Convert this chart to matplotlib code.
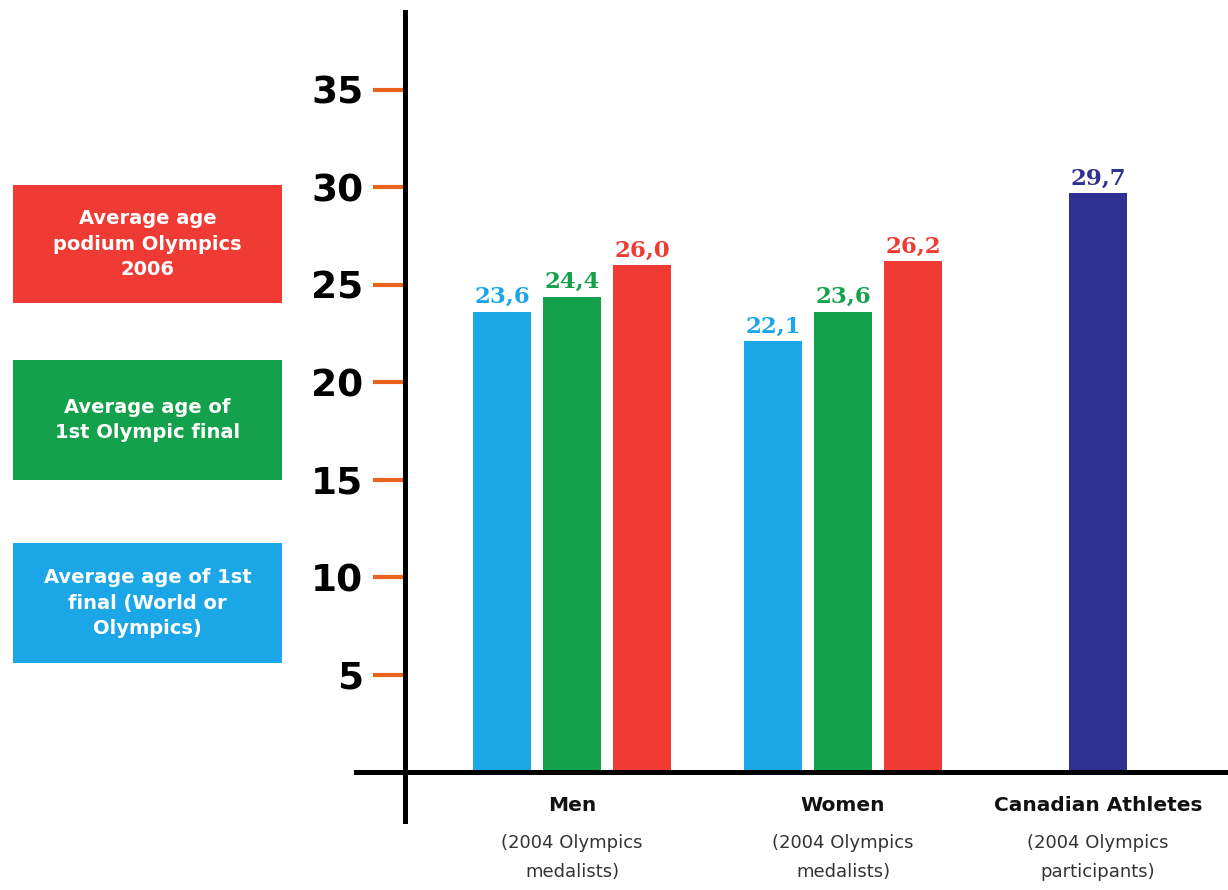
import matplotlib
matplotlib.use("Agg")
import matplotlib.pyplot as plt
from matplotlib.patches import Rectangle

# ---- data ----
groups = ["Men", "Women", "Canadian Athletes"]
group_sub = ["(2004 Olympics\nmedalists)", "(2004 Olympics\nmedalists)", "(2004 Olympics\nparticipants)"]
series = ["Average age of 1st\nfinal (World or\nOlympics)", "Average age of\n1st Olympic final", "Average age\npodium Olympics\n2006"]
first_final = [23.6, 22.1]
first_olympic_final = [24.4, 23.6]
podium_2006 = [26.0, 26.2]
canadian = [29.7]
yticks = [5, 10, 15, 20, 25, 30, 35]

BLUE = "#1ba6e8"
GREEN = "#13a14b"
RED = "#ef3b33"
NAVY = "#2e3192"
ORANGE = "#e8641e"

W, H = 1228, 890
fig = plt.figure(figsize=(W / 100, H / 100), dpi=100)
fig.patch.set_facecolor("white")

# axes: left at x=405, bottom at y=772, top at y=12, right at 1228
ax = fig.add_axes([405 / W, 1 - 772 / H, (1228 - 405) / W, (772 - 12) / H])
ax.set_facecolor("none")

group_pos = [0.0, 1.0, 1.94]
offset = 0.258
width = 0.214
ax.set_xlim(-0.616, 2.42)
ax.set_ylim(0, 39.0)

lab_kw = dict(ha="center", va="bottom", family="DejaVu Serif", fontweight="bold", fontsize=16.5)
for vals, off, col in [(first_final, -offset, BLUE), (first_olympic_final, 0, GREEN), (podium_2006, offset, RED)]:
    xs = [group_pos[i] + off for i in range(len(vals))]
    ax.bar(xs, vals, width=width, color=col, zorder=2)
    for x, v in zip(xs, vals):
        ax.text(x, v + 0.2, f"{v:.1f}".replace(".", ","), color=col, **lab_kw)
ax.bar([group_pos[2]], canadian, width=width, color=NAVY, zorder=2)
ax.text(group_pos[2], canadian[0] + 0.2, f"{canadian[0]:.1f}".replace(".", ","), color=NAVY, **lab_kw)

# axes styling
for s in ["top", "right", "left", "bottom"]:
    ax.spines[s].set_visible(False)
ax.set_yticks(yticks)
ax.set_yticklabels([str(t) for t in yticks], fontsize=27, fontweight="bold", family="DejaVu Sans")
ax.tick_params(axis="y", direction="out", length=23, width=3, color=ORANGE, pad=7)
ax.set_xticks([])

# axis lines extending beyond the plotting area
ax.plot([0, 0], [1.0, -0.065], transform=ax.transAxes, color="black", lw=3.6, clip_on=False, zorder=3)
ax.plot([-0.06, 1.0], [0, 0], transform=ax.transAxes, color="black", lw=3.6, clip_on=False, zorder=3)

# category labels
for x, g, sub in zip(group_pos, groups, group_sub):
    ax.text(x, -1.25, g, ha="center", va="top", fontsize=14.5, fontweight="bold", color="#111111")
    ax.text(x, -3.2, sub, ha="center", va="top", fontsize=13, color="#333333", linespacing=1.75)

# legend boxes on the left
boxes = [(185, 303, RED, series[2]), (360, 480, GREEN, series[1]), (543, 663, BLUE, series[0])]
for top, bot, col, txt in boxes:
    x0, x1 = 13, 282
    fig.patches.append(Rectangle((x0 / W, 1 - bot / H), (x1 - x0) / W, (bot - top) / H,
                                 transform=fig.transFigure, facecolor=col, edgecolor="none"))
    fig.text((x0 + x1) / 2 / W, 1 - (top + bot) / 2 / H, txt, ha="center", va="center",
             color="white", fontsize=14, fontweight="bold", linespacing=1.45)

fig.savefig("out.png", dpi=100, facecolor="white")
